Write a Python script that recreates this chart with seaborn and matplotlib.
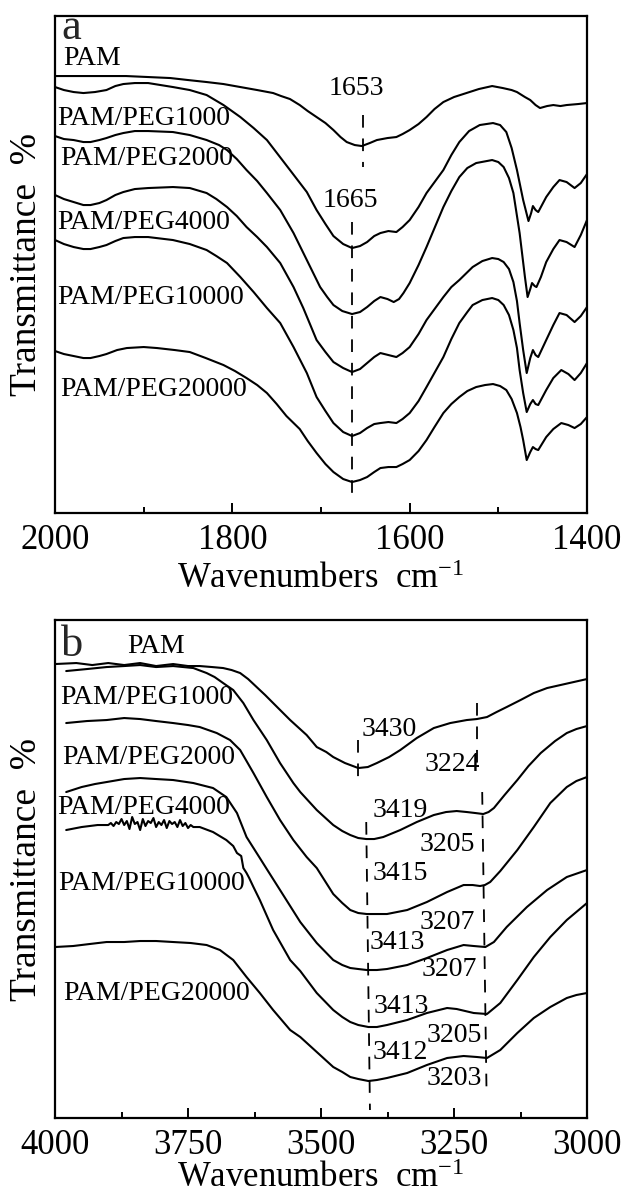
import numpy as np
import pandas as pd
import matplotlib.pyplot as plt
import seaborn as sns

# =====================
# Panel a: 2000-1400 cm-1 (transmittance, arbitrary offset units)
# =====================
pam_a_wn = [2000, 1960, 1920, 1870, 1850, 1829, 1810, 1791, 1772, 1754, 1745, 1735, 1724, 1715,
            1705, 1695, 1686, 1678, 1671, 1662, 1654, 1645, 1637, 1625, 1615, 1608, 1600, 1590,
            1581, 1572, 1562, 1550, 1536, 1522, 1507, 1495, 1485, 1479, 1470, 1464, 1458, 1453,
            1445, 1438, 1430, 1423, 1410, 1400]
pam_a_t = [437, 437, 437, 435, 433, 431, 429, 426, 423, 420, 417, 414, 408, 402,
           396, 390, 383, 376, 371, 368, 367, 370, 373, 375, 376, 379, 383, 389,
           396, 404, 411, 416, 420, 424, 427, 425, 423, 421, 416, 413, 408, 405,
           407, 408, 407, 408, 409, 410]

peg1000_a_wn = [2000, 1990, 1979, 1968, 1955, 1942, 1932, 1923, 1910, 1895, 1867, 1848, 1829, 1810,
                1791, 1776, 1761, 1748, 1735, 1716, 1705, 1695, 1686, 1675, 1665, 1656, 1648, 1640,
                1633, 1624, 1615, 1608, 1600, 1590, 1581, 1562, 1553, 1544, 1533, 1521, 1506, 1498,
                1491, 1485, 1479, 1472, 1466, 1463, 1461, 1458, 1455, 1446, 1438, 1431, 1423, 1414,
                1407, 1400]
peg1000_a_t = [426, 423, 421, 420, 421, 423, 427, 429, 430, 430, 426, 423, 418, 408,
               396, 385, 373, 358, 343, 321, 303, 289, 277, 269, 265, 267, 271, 277,
               280, 282, 281, 286, 293, 306, 320, 343, 358, 371, 382, 388, 390, 388,
               381, 365, 343, 313, 292, 300, 307, 303, 301, 316, 326, 333, 331, 325,
               330, 339]

peg2000_a_wn = [2000, 1990, 1979, 1968, 1960, 1950, 1942, 1932, 1923, 1910, 1895, 1867, 1848, 1829,
                1815, 1806, 1795, 1784, 1772, 1761, 1746, 1731, 1716, 1701, 1693, 1686, 1676, 1665,
                1656, 1648, 1640, 1633, 1625, 1618, 1612, 1607, 1600, 1590, 1581, 1562, 1553, 1544,
                1535, 1525, 1507, 1500, 1494, 1488, 1483, 1476, 1470, 1467, 1464, 1462, 1459, 1457,
                1452, 1446, 1438, 1431, 1423, 1414, 1407, 1400]
peg2000_a_t = [377, 374, 373, 371, 371, 373, 375, 378, 380, 382, 382, 381, 378, 373,
               368, 363, 354, 343, 332, 320, 303, 280, 253, 226, 216, 208, 202, 199,
               201, 206, 212, 216, 214, 211, 214, 220, 230, 248, 266, 306, 322, 336,
               345, 350, 353, 351, 346, 335, 320, 280, 236, 216, 224, 230, 227, 226,
               236, 251, 264, 273, 271, 266, 278, 293]

peg4000_a_wn = [2000, 1990, 1979, 1968, 1960, 1950, 1942, 1932, 1923, 1910, 1895, 1867, 1848, 1829,
                1818, 1806, 1795, 1784, 1772, 1761, 1746, 1731, 1720, 1712, 1705, 1695, 1686, 1675,
                1665, 1656, 1648, 1640, 1633, 1624, 1615, 1608, 1600, 1590, 1581, 1562, 1553, 1544,
                1529, 1518, 1507, 1500, 1494, 1488, 1483, 1479, 1476, 1472, 1468, 1464, 1461, 1458,
                1455, 1446, 1438, 1431, 1423, 1414, 1407, 1400]
peg4000_a_t = [318, 314, 311, 308, 308, 310, 313, 318, 321, 324, 325, 326, 325, 320,
               314, 306, 297, 286, 276, 266, 250, 226, 205, 188, 173, 161, 151, 145,
               141, 144, 150, 156, 160, 158, 156, 160, 166, 179, 193, 216, 226, 233,
               246, 252, 255, 254, 251, 244, 231, 212, 190, 163, 140, 155, 163, 158,
               156, 173, 188, 200, 198, 191, 197, 206]

peg10000_a_wn = [2000, 1990, 1979, 1968, 1960, 1950, 1942, 1932, 1923, 1910, 1895, 1867, 1848, 1829,
                 1818, 1806, 1791, 1776, 1761, 1746, 1731, 1716, 1705, 1695, 1686, 1675, 1665, 1656,
                 1648, 1640, 1633, 1624, 1615, 1608, 1600, 1590, 1581, 1562, 1553, 1544, 1535, 1529,
                 1518, 1507, 1500, 1494, 1488, 1483, 1479, 1476, 1472, 1468, 1464, 1461, 1458, 1455,
                 1446, 1438, 1429, 1421, 1414, 1407, 1400]
peg10000_a_t = [273, 269, 266, 264, 264, 266, 268, 272, 275, 276, 276, 273, 269, 263,
                257, 250, 236, 221, 205, 190, 166, 140, 116, 102, 90, 81, 77, 80,
                85, 89, 90, 91, 90, 94, 100, 112, 126, 156, 174, 190, 201, 208,
                213, 215, 213, 208, 198, 183, 165, 143, 120, 101, 109, 113, 109, 108,
                123, 135, 143, 139, 133, 140, 150]

peg20000_a_wn = [2000, 1990, 1979, 1968, 1960, 1950, 1942, 1930, 1919, 1900, 1885, 1865, 1848, 1830,
                 1810, 1797, 1784, 1772, 1761, 1750, 1739, 1724, 1715, 1705, 1695, 1686, 1675, 1665,
                 1656, 1648, 1640, 1633, 1624, 1615, 1608, 1600, 1590, 1581, 1572, 1562, 1553, 1544,
                 1535, 1525, 1515, 1506, 1498, 1491, 1485, 1479, 1475, 1472, 1468, 1464, 1461, 1458,
                 1455, 1446, 1438, 1429, 1421, 1414, 1407, 1400]
peg20000_a_t = [162, 159, 157, 155, 155, 157, 159, 163, 165, 166, 165, 163, 161, 155,
                148, 142, 135, 128, 120, 109, 97, 84, 72, 60, 49, 41, 34, 31,
                33, 36, 41, 45, 46, 46, 49, 53, 62, 73, 86, 100, 109, 116,
                122, 126, 128, 129, 127, 123, 114, 100, 86, 73, 53, 61, 66, 64,
                63, 76, 84, 90, 88, 85, 89, 96]

# =====================
# Panel b: 4000-3000 cm-1
# =====================
pam_b_wn = [4000, 3960, 3930, 3900, 3870, 3840, 3810, 3778, 3750, 3728, 3705, 3684, 3668, 3652,
            3637, 3621, 3605, 3590, 3558, 3527, 3508, 3490, 3477, 3455, 3430, 3412, 3395, 3372,
            3351, 3320, 3288, 3257, 3226, 3207, 3188, 3170, 3151, 3125, 3100, 3075, 3050, 3025,
            3000]
pam_b_t = [454, 455, 453, 455, 453, 455, 452, 454, 452, 452, 451, 450, 448, 445,
           439, 431, 423, 415, 398, 383, 371, 366, 361, 355, 350, 351, 355, 361,
           368, 380, 390, 395, 398, 399, 401, 406, 411, 418, 425, 430, 433, 436,
           439]

peg1000_b_wn = [3979, 3940, 3903, 3870, 3840, 3810, 3778, 3740, 3715, 3700, 3684, 3665, 3646, 3627,
                3602, 3577, 3552, 3539, 3508, 3477, 3460, 3445, 3430, 3415, 3400, 3383, 3351, 3320,
                3288, 3265, 3245, 3226, 3210, 3195, 3185, 3175, 3155, 3131, 3110, 3087, 3060, 3038,
                3020, 3000]
peg1000_b_t = [447, 449, 451, 452, 453, 451, 452, 450, 445, 441, 435, 428, 415, 398,
               378, 355, 335, 326, 308, 293, 287, 283, 280, 279, 279, 281, 288, 296,
               303, 306, 307, 306, 305, 304, 306, 310, 323, 338, 352, 365, 377, 385,
               389, 392]

peg2000_b_wn = [3979, 3940, 3903, 3870, 3840, 3810, 3778, 3750, 3728, 3696, 3671, 3652, 3640, 3627,
                3602, 3577, 3552, 3527, 3508, 3477, 3460, 3445, 3430, 3414, 3395, 3376, 3338, 3301,
                3263, 3232, 3215, 3201, 3192, 3182, 3163, 3131, 3100, 3069, 3038, 3020, 3000]
peg2000_b_t = [395, 397, 398, 400, 399, 397, 395, 393, 391, 385, 378, 368, 357, 345,
               321, 298, 278, 261, 250, 224, 215, 208, 205, 204, 204, 204, 208, 216,
               226, 233, 233, 232, 233, 236, 247, 268, 291, 315, 331, 337, 341]

peg4000_b_wn = [3979, 3950, 3925, 3903, 3870, 3840, 3810, 3778, 3740, 3703, 3678, 3658, 3640, 3615,
                3602, 3577, 3539, 3508, 3477, 3460, 3445, 3430, 3414, 3395, 3376, 3338, 3301, 3263,
                3232, 3213, 3191, 3175, 3151, 3113, 3075, 3038, 3000]
peg4000_b_t = [326, 331, 334, 336, 339, 340, 339, 338, 335, 330, 321, 305, 281, 260,
               249, 228, 196, 175, 158, 153, 150, 149, 148, 148, 149, 153, 160, 168,
               173, 172, 171, 176, 191, 211, 228, 241, 248]

peg10000_b_wn = [3979, 3950, 3920, 3900, 3895, 3890, 3885, 3880, 3875, 3870, 3865, 3860, 3855, 3850,
                 3845, 3840, 3835, 3830, 3825, 3820, 3815, 3810, 3805, 3800, 3795, 3790, 3785, 3780,
                 3775, 3770, 3765, 3760, 3755, 3750, 3745, 3740, 3728, 3703, 3678, 3665, 3658, 3650,
                 3646, 3640, 3635, 3627, 3615, 3590, 3558, 3539, 3508, 3477, 3460, 3445, 3430, 3411,
                 3395, 3376, 3338, 3301, 3263, 3245, 3213, 3188, 3163, 3131, 3100, 3069, 3038, 3000]
peg10000_b_t = [288, 291, 293, 293, 295, 292, 296, 294, 299, 293, 297, 289, 301, 294,
                296, 288, 299, 292, 297, 295, 300, 291, 296, 293, 298, 290, 297, 294,
                296, 291, 298, 292, 295, 290, 293, 291, 291, 286, 278, 272, 265, 262,
                250, 245, 240, 231, 218, 188, 158, 147, 125, 108, 101, 96, 93, 91,
                91, 93, 98, 105, 110, 109, 105, 104, 115, 138, 161, 181, 198, 215]

peg20000_b_wn = [4000, 3966, 3935, 3903, 3870, 3840, 3810, 3778, 3745, 3715, 3690, 3665, 3640, 3615,
                 3590, 3558, 3539, 3508, 3477, 3460, 3445, 3430, 3411, 3395, 3376, 3338, 3301, 3263,
                 3232, 3207, 3188, 3163, 3131, 3100, 3069, 3038, 3020, 3000]
peg20000_b_t = [171, 172, 174, 176, 176, 177, 177, 176, 175, 173, 168, 158, 141, 125,
                108, 88, 81, 66, 51, 46, 41, 39, 37, 38, 40, 45, 53, 60,
                62, 61, 60, 68, 85, 100, 111, 120, 123, 125]

samples = ["PAM", "PAM/PEG1000", "PAM/PEG2000", "PAM/PEG4000", "PAM/PEG10000", "PAM/PEG20000"]

# peak annotations
peaks_a = ["1653", "1665"]
peaks_b_oh = ["3430", "3419", "3415", "3413", "3413", "3412"]
peaks_b_nh = ["3224", "3205", "3207", "3207", "3205", "3203"]

# --- layout (label anchors in data units) ---
lab_a_pos = [(1991, 455), (1997, 395), (1994, 355), (1997, 291), (1997, 216), (1994, 124)]
lab_b_pos = [(3865, 472), (3991, 421), (3987, 361), (3996, 311), (3994, 235), (3985, 125)]
peak_a_pos = [(1660, 425), (1667, 313)]
peak_a_lines = [([1653, 1653], [398, 346]), ([1665, 1665], [291, 16])]
oh_pos = [(3423, 389), (3404, 308), (3404, 245), (3408, 176), (3402, 112), (3404, 66)]
nh_pos = [(3201, 354), (3211, 274), (3211, 196), (3207, 149), (3197, 83), (3197, 40)]
peak_b_lines = [([3430, 3430], [378, 334]), ([3207, 3207], [415, 346]),
                ([3415, 3408], [296, 8]), ([3197, 3189], [326, 31])]


def long_frame(wns, ts):
    parts = [pd.DataFrame({"wn": w, "T": t, "sample": s}) for s, w, t in zip(samples, wns, ts)]
    return pd.concat(parts, ignore_index=True)


df_a = long_frame([pam_a_wn, peg1000_a_wn, peg2000_a_wn, peg4000_a_wn, peg10000_a_wn, peg20000_a_wn],
                  [pam_a_t, peg1000_a_t, peg2000_a_t, peg4000_a_t, peg10000_a_t, peg20000_a_t])
df_b = long_frame([pam_b_wn, peg1000_b_wn, peg2000_b_wn, peg4000_b_wn, peg10000_b_wn, peg20000_b_wn],
                  [pam_b_t, peg1000_b_t, peg2000_b_t, peg4000_b_t, peg10000_b_t, peg20000_b_t])

sns.set_theme(style="white")
plt.rcParams["font.family"] = ["Liberation Serif", "DejaVu Serif"]
plt.rcParams["mathtext.fontset"] = "custom"
plt.rcParams["mathtext.rm"] = "Liberation Serif"
plt.rcParams["mathtext.it"] = "Liberation Serif:italic"

fig = plt.figure(figsize=(6.26, 11.97), dpi=100)
ax_a = fig.add_axes([0.0879, 0.5714, 0.8498, 0.4152])
ax_b = fig.add_axes([0.0879, 0.0660, 0.8498, 0.4160])

black = ["black"] * len(samples)
for ax, df in [(ax_a, df_a), (ax_b, df_b)]:
    sns.lineplot(data=df, x="wn", y="T", hue="sample", palette=black, estimator=None,
                 sort=False, legend=False, linewidth=1.5, ax=ax)
    for line in ax.get_lines():
        line.set_solid_joinstyle("round")

dash = dict(color="black", linewidth=1.3, dashes=(7, 6))
txt = dict(fontsize=20, color="black")

# panel a
for name, (x, y) in zip(samples, lab_a_pos):
    ax_a.text(x, y, name, ha="left", va="center", **txt)
for lab, (x, y) in zip(peaks_a, peak_a_pos):
    ax_a.text(x, y, lab, ha="center", va="center", **txt)
for xs, ys in peak_a_lines:
    ax_a.plot(xs, ys, **dash)
ax_a.set_xlim(2000, 1400)
ax_a.set_ylim(0, 497)
ax_a.set_xticks([2000, 1800, 1600, 1400])
ax_a.set_xticks([1900, 1700, 1500], minor=True)
ax_a.text(0.012, 0.953, "a", transform=ax_a.transAxes, fontsize=32, ha="left", va="baseline")

# panel b
for name, (x, y) in zip(samples, lab_b_pos):
    ax_b.text(x, y, name, ha="left", va="center", **txt)
for lab, (x, y) in zip(peaks_b_oh, oh_pos):
    ax_b.text(x, y, lab, ha="left", va="center", **txt)
for lab, (x, y) in zip(peaks_b_nh, nh_pos):
    ax_b.text(x, y, lab, ha="right", va="center", **txt)
for xs, ys in peak_b_lines:
    ax_b.plot(xs, ys, **dash)
ax_b.set_xlim(4000, 3000)
ax_b.set_ylim(0, 498)
ax_b.set_xticks([4000, 3750, 3500, 3250, 3000])
ax_b.set_xticks([3875, 3625, 3375, 3125], minor=True)
ax_b.text(0.012, 0.928, "b", transform=ax_b.transAxes, fontsize=32, ha="left", va="baseline")

for ax, lpad in [(ax_a, 4), (ax_b, 0)]:
    ax.set_yticks([])
    ax.tick_params(axis="x", which="both", direction="in", bottom=True, top=False,
                   width=1.4, colors="black")
    ax.tick_params(axis="x", which="major", length=7, labelsize=25, pad=8)
    ax.tick_params(axis="x", which="minor", length=4)
    for sp in ax.spines.values():
        sp.set_linewidth(1.6)
        sp.set_color("black")
    ax.set_xlabel("Wavenumbers  cm$^{-1}$", fontsize=25, labelpad=lpad, color="black")
    ax.set_ylabel("Transmittance  %", fontsize=27, labelpad=8, color="black")

fig.savefig("out.png", dpi=100)
plt.close(fig)
